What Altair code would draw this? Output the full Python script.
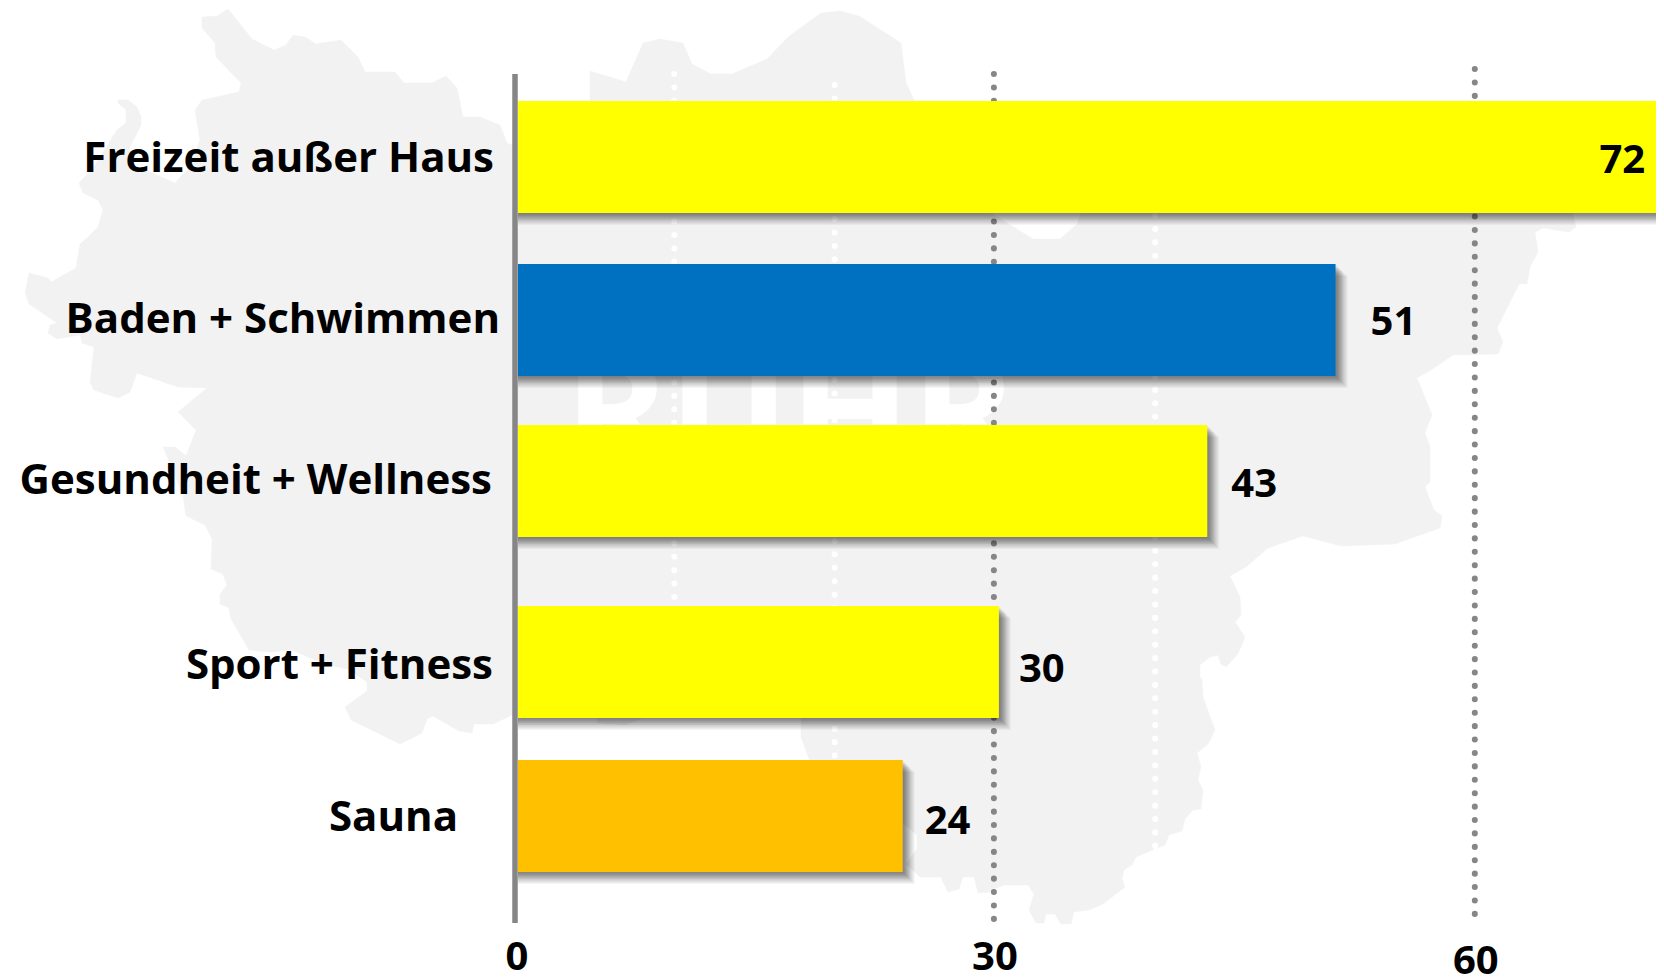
import altair as alt
import pandas as pd

categories = ["Freizeit außer Haus", "Baden + Schwimmen", "Gesundheit + Wellness", "Sport + Fitness", "Sauna"]
values = [72, 51, 43, 30, 24]
bar_colors = ["#ffff00", "#0070c0", "#ffff00", "#ffff00", "#ffc000"]
grid_gray = [30, 60]
grid_white = [10, 20, 40]
tick_labels = [0, 30, 60]

map_outline = [
    (202,17),(217,16),(228,9),(252,39),(274,50),(286,45),(293,35),(305,37),(316,44),(341,40),(358,57),(365,72),
    (395,72),(404,83),(432,83),(446,76),(457,88),(463,117),(480,117),(500,125),(507,143),(515,146),(590,130),(590,71),
    (626,82),(643,43),(660,39),(683,43),(692,64),(711,74),(732,74),(767,59),(788,37),(821,13),(840,11),(859,16),
    (901,43),(906,83),(914,100),(930,130),(991,213),(1033,239),(1060,239),(1077,224),(1090,190),(1567,190),(1576,227),
    (1569,232),(1543,228),(1535,232),(1538,252),(1530,267),(1527,284),(1519,284),(1497,328),(1503,342),(1498,354),
    (1453,355),(1434,368),(1417,378),(1432,415),(1425,433),(1430,447),(1430,482),(1425,487),(1434,510),(1442,516),
    (1440,528),(1395,544),(1341,546),(1303,536),(1268,548),(1246,567),(1230,576),(1240,597),(1241,615),(1235,622),
    (1245,637),(1238,654),(1226,667),(1221,664),(1218,655),(1210,657),(1200,665),(1200,677),(1202,680),(1203,697),
    (1215,730),(1208,744),(1197,753),(1201,767),(1198,780),(1203,790),(1201,809),(1193,810),(1185,819),(1182,831),
    (1169,835),(1165,845),(1155,849),(1136,857),(1132,865),(1124,870),(1122,879),(1125,887),(1103,904),(1089,910),
    (1074,912),(1071,924),(1061,924),(1055,914),(1046,914),(1044,923),(1036,923),(1029,910),(1034,894),(1028,885),
    (1004,885),(994,889),(991,892),(978,893),(974,877),(963,877),(959,889),(948,892),(942,880),(942,877),(920,877),
    (906,864),(917,849),(917,835),(904,824),(860,860),(809,759),(801,737),(801,700),(642,700),(642,718),(626,725),
    (597,723),(597,700),(512,715),(493,724),(474,724),(472,733),(459,731),(433,716),(427,719),(422,733),(400,744),
    (351,720),(345,707),(367,691),(367,682),(347,669),(324,664),(292,650),(270,652),(249,650),(231,619),(229,608),
    (220,604),(220,594),(227,585),(223,574),(211,569),(212,539),(205,525),(186,516),(183,495),(163,447),(175,447),
    (186,456),(196,430),(178,412),(207,388),(178,387),(137,373),(130,392),(118,398),(94,390),(90,383),(94,347),
    (82,343),(80,335),(57,339),(48,333),(50,325),(57,323),(29,304),(25,293),(29,273),(48,278),(51,282),(76,268),
    (80,244),(88,237),(98,227),(103,210),(98,200),(83,193),(79,183),(93,168),(117,130),(126,123),(126,110),(118,103),
    (118,100),(128,100),(137,107),(141,117),(141,125),(130,147),(128,165),(150,172),(175,183),(182,175),(188,170),
    (200,140),(195,110),(202,100),(239,92),(241,83),(216,57),(215,43),(202,28),
]
map_x = [p[0] for p in map_outline]
map_y = [p[1] for p in map_outline]

W, H = 1648, 969
PX0, PXU = 510.0, 16.03
x_scale = alt.Scale(domain=[(0 - PX0) / PXU, (W - PX0) / PXU], range=[0, W], nice=False, zero=False)
y_scale = alt.Scale(type="band", domain=categories, range=[93, 864], paddingInner=0.32, paddingOuter=0)

FONT = "Open Sans"
TEXT_SIZE = 42
NUM_SIZE = 40

df = pd.DataFrame({"cat": categories, "val": values, "col": bar_colors})


def one(cat):
    return df[df["cat"] == cat]


X = alt.X("val:Q", scale=x_scale, axis=None)
Y = alt.Y("cat:N", scale=y_scale, axis=None, sort=categories)

layers = []

map_df = pd.DataFrame({"mx": map_x, "my": map_y, "i": range(len(map_x))})
layers.append(
    alt.Chart(map_df).mark_line(interpolate="linear-closed", fill="#f2f2f2", stroke="#f2f2f2", strokeWidth=0.5).encode(
        x=alt.X("mx:Q", scale=alt.Scale(domain=[8, 8 + W], range=[0, W], nice=False, zero=False), axis=None),
        y=alt.Y("my:Q", scale=alt.Scale(domain=[8, 8 + H], range=[0, H], nice=False, zero=False), axis=None),
        order="i:Q",
    )
)

# ghost lettering of the backdrop
layers.append(
    alt.Chart(pd.DataFrame({"t": ["RUHR"], "val": [0]})).mark_text(
        font=FONT, fontWeight="bold", fontSize=159, color="#ffffff", align="center", baseline="middle"
    ).encode(x=alt.value(782), y=alt.value(412), text="t:N")
)

for g, top in zip(grid_white, [66, 77, 60]):
    layers.append(
        alt.Chart(pd.DataFrame({"val": [g]})).mark_rule(color="#ffffff", strokeWidth=6, strokeCap="round", strokeDash=[0.1, 13.31], xOffset=-4).encode(
            x=X, y=alt.value(top), y2=alt.value(912)
        )
    )
for g, top, bottom in zip(grid_gray, [66, 61], [911.5, 906.5]):
    layers.append(
        alt.Chart(pd.DataFrame({"val": [g]})).mark_rule(color="#868686", strokeWidth=6, strokeCap="round", strokeDash=[0.1, 13.31], xOffset=-5).encode(
            x=X, y=alt.value(top), y2=alt.value(bottom)
        )
    )

layers.append(
    alt.Chart(pd.DataFrame({"val": [0]})).mark_rule(color="#868686", strokeWidth=5.5, xOffset=-3).encode(
        x=X, y=alt.value(66), y2=alt.value(915)
    )
)

# layout nudges: category -> (bar y, value dx, value dy, label right edge x, label dy)
nudges = {
    "Freizeit außer Haus": (0, 0, 4, 486, 2),
    "Baden + Schwimmen": (-1.7, 35, 3, 492, 0),
    "Gesundheit + Wellness": (-5.5, 24, 4, 484, 0),
    "Sport + Fitness": (10.7, 20, 8, 485, 4),
    "Sauna": (0, 22, 6, 450, 2),
}

shadow_steps = [1, 2, 3, 3, 4, 5, 5, 6, 7, 7, 8, 9, 10, 11, 12]

for cat, (dy, vdx, vdy, lx, ldy) in nudges.items():
    d = one(cat)
    base_y = dy
    for s in shadow_steps:
        layers.append(
            alt.Chart(d).mark_bar(color="#000000", opacity=0.04, clip=True, xOffset=s, yOffset=base_y + s).encode(
                x=X, x2=alt.datum(0), y=Y
            )
        )
    layers.append(
        alt.Chart(d).mark_bar(clip=True, yOffset=base_y).encode(
            x=X, x2=alt.datum(0), y=Y, color=alt.Color("col:N", scale=None)
        )
    )

for cat, (dy, vdx, vdy, lx, ldy) in nudges.items():
    d = one(cat)
    big = cat == categories[0]
    layers.append(
        alt.Chart(d).mark_text(
            font=FONT, fontWeight="bold", fontSize=NUM_SIZE, color="#000000",
            align="right" if big else "left", baseline="middle",
            dx=-27 if big else vdx, dy=dy + vdy,
        ).encode(x=alt.X("val:Q", scale=x_scale, axis=None), y=Y, text="val:Q")
    )
    layers.append(
        alt.Chart(d).mark_text(
            font=FONT, fontWeight="bold", fontSize=TEXT_SIZE, color="#000000",
            align="right", baseline="middle", dy=dy + ldy,
        ).encode(x=alt.value(lx), y=Y, text="cat:N")
    )

for t, dy in zip(tick_labels, [0, 0, 4]):
    layers.append(
        alt.Chart(pd.DataFrame({"val": [t]})).mark_text(
            font=FONT, fontWeight="bold", fontSize=NUM_SIZE, color="#000000",
            align="center", baseline="middle", dy=dy, dx=-4 if t else -1,
        ).encode(x=alt.X("val:Q", scale=x_scale, axis=None), y=alt.value(950), text="val:Q")
    )

chart = (
    alt.layer(*layers)
    .resolve_scale(x="independent", y="independent", color="independent")
    .properties(width=W, height=H, padding=0, autosize=alt.AutoSizeParams(type="none"))
    .configure_view(stroke=None)
)

chart.save("out.html", embed_options={"renderer": "svg", "actions": False})
